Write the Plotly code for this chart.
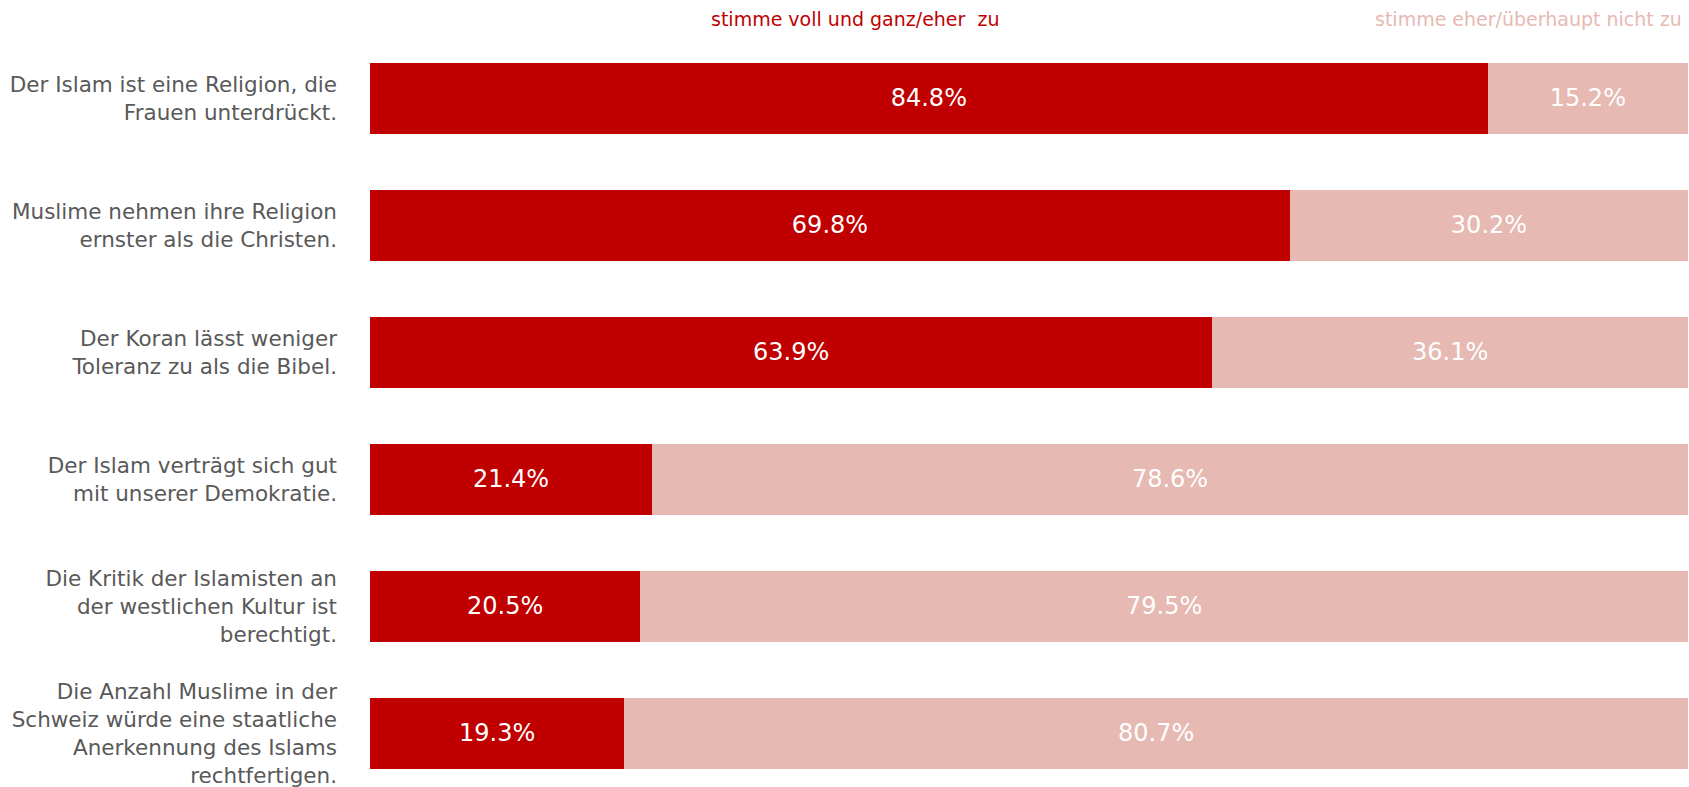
import plotly.graph_objects as go

FONT = "DejaVu Sans, sans-serif"

statements = [
    "Der Islam ist eine Religion, die<br>Frauen unterdrückt.",
    "Muslime nehmen ihre Religion<br>ernster als die Christen.",
    "Der Koran lässt weniger<br>Toleranz zu als die Bibel.",
    "Der Islam verträgt sich gut<br>mit unserer Demokratie.",
    "Die Kritik der Islamisten an<br>der westlichen Kultur ist<br>berechtigt.",
    "Die Anzahl Muslime in der<br>Schweiz würde eine staatliche<br>Anerkennung des Islams<br>rechtfertigen.",
]
agree = [84.8, 69.8, 63.9, 21.4, 20.5, 19.3]
disagree = [15.2, 30.2, 36.1, 78.6, 79.5, 80.7]
series_names = ["stimme voll und ganz/eher  zu", "stimme eher/überhaupt nicht zu"]

RED = "#C00000"
PINK = "#E6B9B3"

fig = go.Figure()
for vals, name, color in [(agree, series_names[0], RED), (disagree, series_names[1], PINK)]:
    fig.add_trace(go.Bar(
        y=statements,
        x=vals,
        orientation="h",
        name=name,
        marker=dict(color=color, line=dict(width=0)),
        text=[f"{v:.1f}%" for v in vals],
        textposition="inside",
        insidetextanchor="middle",
        textfont=dict(color="white", size=24, family=FONT),
        showlegend=False,
    ))

# header labels in place of a legend
fig.add_annotation(x=0.368, y=1.0, xref="paper", yref="paper", yanchor="bottom",
                   text=series_names[0], showarrow=False, yshift=3,
                   font=dict(color=RED, size=19, family=FONT))
fig.add_annotation(x=1.0, y=1.0, xref="paper", yref="paper", yanchor="bottom",
                   xanchor="right", xshift=-4,
                   text=series_names[1], showarrow=False, yshift=3,
                   font=dict(color=PINK, size=19, family=FONT))

fig.update_layout(
    barmode="stack",
    bargap=0.44,
    width=1689,
    height=787,
    margin=dict(l=370, r=1, t=35, b=0),
    plot_bgcolor="white",
    paper_bgcolor="white",
    font=dict(family=FONT, color="#595959", size=21.5),
    xaxis=dict(range=[0, 100], visible=False),
    yaxis=dict(
        categoryorder="array",
        categoryarray=statements,
        range=[5.425, -0.5],
        showgrid=False,
        zeroline=False,
        showline=False,
        ticklabelstandoff=32,
        tickfont=dict(size=21.5, color="#595959", family=FONT),
    ),
)

# drop the default page margin so the figure fills the window exactly
fig.write_html(
    "out.html",
    config={"displayModeBar": False},
    post_script="document.body.style.margin='0';document.body.style.overflow='hidden';",
)
